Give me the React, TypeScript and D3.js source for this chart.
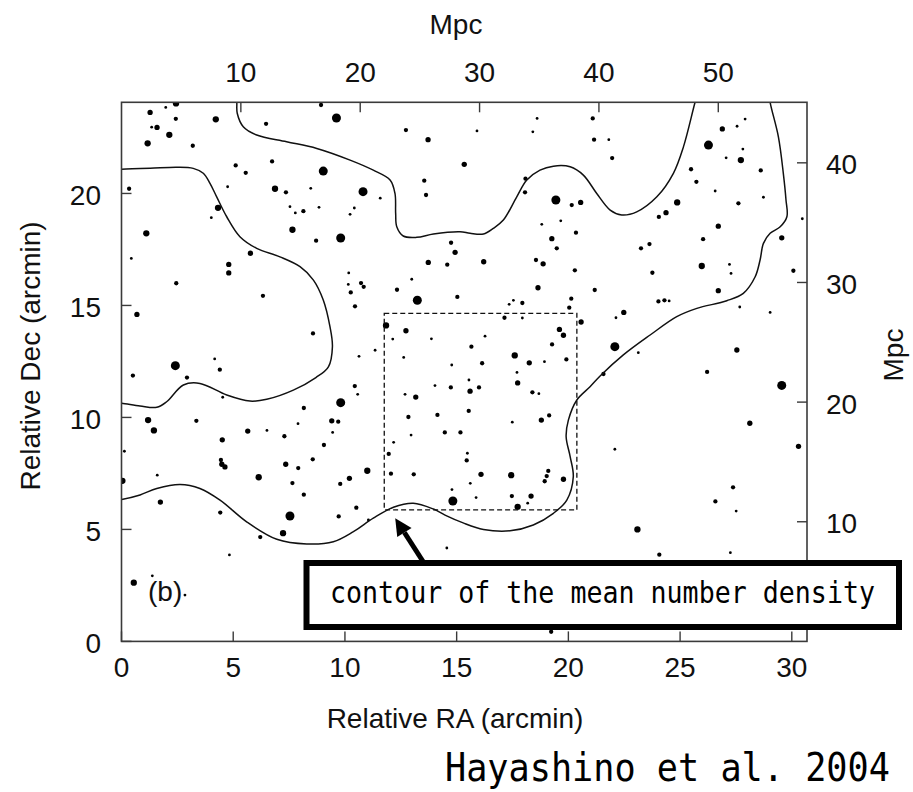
import React from 'react';
import * as d3 from 'd3';

// ---- galaxy positions (arcmin) and size class (1 = faint ... 5 = bright) ----
const RA = [
  2.44, 1.28, 1.98, 2.43, 4.22, 6.47, 8.93, 9.62, 1.35, 1.59, 2.14, 1.17, 3.19, 12.73, 13.72, 5.11, 5.56, 6.74, 9.03, 4.75,
  6.87, 7.36, 8.47, 10.81, 11.58, 13.55, 13.63, 0.34, 4.32, 4.02, 7.54, 7.78, 8.14, 8.84, 10.42, 10.23, 1.11, 7.65, 8.71, 9.81,
  14.75, 14.93, 13.73, 14.58, 0.44, 5.77, 4.80, 4.80, 2.45, 6.33, 10.17, 10.15, 10.72, 10.84, 10.26, 12.99, 12.33, 13.24, 15.03, 10.45,
  0.69, 11.84, 12.73, 12.14, 13.87, 12.63, 14.78, 8.57, 11.35, 10.63, 4.17, 4.40, 2.41, 0.51, 2.93, 18.60, 15.91, 18.41, 21.09, 21.15,
  21.81, 21.96, 15.34, 26.89, 27.55, 27.91, 26.27, 27.81, 27.06, 27.72, 25.49, 28.61, 25.73, 26.57, 28.73, 18.08, 18.06, 19.44, 20.15, 20.55,
  24.87, 24.37, 24.05, 27.61, 26.71, 30.47, 18.81, 19.66, 20.34, 19.26, 19.48, 23.63, 23.25, 26.03, 29.55, 16.21, 18.55, 18.87, 20.29, 23.76,
  25.97, 27.21, 27.28, 30.07, 18.64, 21.18, 26.71, 17.54, 17.94, 17.35, 20.13, 20.04, 24.03, 24.30, 24.51, 27.67, 29.03, 17.14, 17.94, 20.57,
  22.48, 22.13, 19.60, 19.78, 19.27, 16.27, 15.66, 17.60, 18.25, 18.93, 19.91, 16.14, 17.70, 22.08, 23.13, 27.54, 26.21, 21.57, 10.44, 10.57,
  4.53, 9.81, 8.16, 1.19, 1.45, 3.35, 9.41, 9.70, 7.90, 9.45, 5.65, 6.51, 4.51, 7.29, 9.06, 0.13, 8.56, 4.45, 4.49, 4.63,
  7.35, 7.91, 11.00, 0.04, 1.60, 6.14, 10.20, 9.79, 7.65, 8.16, 1.74, 4.42, 7.54, 9.72, 10.51, 11.05, 7.23, 6.21, 4.83, 0.55,
  1.38, 12.69, 13.17, 14.03, 14.74, 12.84, 14.14, 12.96, 14.47, 12.18, 11.96, 12.06, 13.08, 14.79, 14.83, 14.56, 29.55, 15.55, 15.60, 16.00,
  17.73, 18.39, 18.68, 15.54, 17.49, 18.79, 19.14, 15.17, 15.48, 15.45, 16.09, 17.44, 19.10, 19.03, 18.94, 19.78, 15.61, 15.87, 17.47, 18.33,
  18.18, 17.73, 22.08, 28.12, 30.30, 27.37, 26.58, 27.51, 23.09, 24.07, 27.25, 19.23, 2.84,
];
const DEC = [
  24.02, 23.62, 23.84, 23.33, 23.31, 23.11, 23.95, 23.37, 22.96, 22.95, 22.62, 22.24, 22.13, 22.83, 22.40, 21.25, 20.92, 21.43, 21.00, 20.30,
  20.21, 20.05, 20.23, 20.08, 19.79, 20.57, 19.93, 20.21, 19.36, 18.92, 19.41, 19.13, 19.21, 19.38, 19.35, 19.07, 18.22, 18.38, 17.89, 18.01,
  17.80, 17.37, 16.92, 16.82, 17.10, 17.33, 16.83, 16.45, 15.99, 15.43, 16.45, 15.94, 16.00, 15.83, 15.58, 16.17, 15.70, 15.23, 15.38, 14.96,
  14.60, 14.11, 13.87, 13.50, 13.51, 12.68, 12.34, 13.75, 13.00, 12.73, 12.61, 12.13, 12.31, 11.87, 11.78, 23.35, 22.79, 22.75, 23.35, 22.40,
  22.40, 21.58, 21.30, 22.88, 23.00, 23.32, 22.16, 21.98, 21.59, 21.49, 21.08, 21.03, 20.52, 20.11, 19.83, 20.66, 20.05, 19.71, 19.48, 19.60,
  19.60, 19.14, 18.95, 19.56, 18.54, 18.87, 18.62, 18.78, 18.25, 17.98, 17.55, 17.74, 17.55, 17.96, 18.02, 16.95, 17.03, 16.86, 16.57, 16.46,
  16.76, 16.83, 16.43, 16.55, 15.79, 15.69, 15.66, 15.23, 15.11, 15.05, 15.30, 14.90, 15.18, 15.23, 15.20, 14.93, 14.69, 14.45, 14.44, 14.26,
  14.69, 14.45, 13.93, 13.67, 13.26, 13.63, 13.16, 12.77, 12.44, 12.49, 12.59, 12.42, 12.01, 13.16, 12.89, 13.01, 12.03, 11.94, 11.40, 11.03,
  10.90, 10.66, 10.42, 9.88, 9.42, 9.85, 9.85, 9.81, 9.72, 9.33, 9.39, 9.42, 9.00, 9.16, 8.77, 8.49, 8.13, 8.10, 7.91, 7.79,
  7.91, 7.74, 7.62, 7.17, 7.42, 7.33, 7.28, 7.03, 7.07, 6.55, 6.22, 5.75, 5.60, 5.58, 5.97, 5.42, 4.83, 4.66, 3.86, 2.62,
  2.93, 11.03, 10.91, 11.42, 11.34, 10.02, 10.11, 9.21, 9.33, 8.89, 8.37, 7.49, 7.46, 6.78, 6.27, 4.17, 11.43, 11.67, 11.17, 11.34,
  11.54, 11.12, 11.06, 10.29, 9.79, 9.88, 10.09, 9.33, 8.40, 8.08, 7.46, 7.42, 7.61, 7.38, 7.15, 7.24, 7.06, 6.42, 6.49, 6.49,
  6.17, 6.01, 8.58, 9.74, 8.71, 6.88, 6.25, 5.82, 5.00, 3.87, 3.96, 0.43, 2.07,
];
const MAG = [
  4, 3, 1, 2, 4, 2, 2, 5, 1, 3, 4, 4, 2, 2, 3, 2, 2, 2, 5, 1,
  4, 2, 1, 5, 1, 2, 2, 2, 4, 1, 1, 1, 2, 1, 1, 1, 4, 4, 2, 5,
  2, 3, 3, 2, 1, 3, 3, 3, 2, 2, 1, 1, 2, 2, 2, 1, 2, 5, 2, 2,
  3, 4, 3, 1, 1, 1, 1, 2, 1, 1, 1, 2, 5, 2, 2, 1, 1, 1, 2, 2,
  1, 2, 3, 3, 1, 1, 5, 1, 1, 4, 2, 2, 2, 1, 1, 2, 2, 5, 2, 3,
  4, 3, 2, 2, 3, 1, 1, 1, 2, 3, 2, 2, 2, 2, 3, 3, 2, 3, 2, 2,
  4, 1, 1, 2, 3, 2, 3, 1, 2, 1, 2, 2, 2, 2, 1, 1, 1, 2, 1, 3,
  3, 1, 3, 3, 2, 1, 2, 4, 3, 1, 2, 2, 1, 5, 1, 3, 2, 2, 2, 1,
  1, 5, 2, 4, 4, 2, 3, 2, 1, 1, 3, 1, 3, 2, 2, 1, 2, 2, 3, 3,
  3, 2, 4, 4, 1, 4, 3, 2, 2, 2, 3, 2, 5, 2, 2, 1, 4, 2, 1, 4,
  1, 1, 3, 1, 2, 2, 2, 1, 2, 1, 2, 2, 2, 1, 5, 1, 5, 1, 3, 2,
  3, 2, 1, 2, 1, 3, 2, 2, 1, 2, 3, 4, 2, 2, 2, 3, 1, 1, 2, 3,
  1, 4, 1, 3, 3, 2, 2, 1, 4, 2, 1, 2, 1,
];

// ---- contours of the mean number density (RA, Dec in arcmin) ----
const CONTOUR_NORTH: [number, number][] = [
  [5.12, 24.5], [5.16, 24.07], [5.18, 23.58], [5.45, 22.98], [6.05, 22.61], [7.39, 22.31], [8.74, 22.01], [10.23, 21.49],
  [11.27, 21.04], [12.02, 20.6], [12.24, 20.0], [12.27, 19.11], [12.32, 18.51], [12.61, 18.1], [13.21, 18.04], [13.96, 18.19],
  [15.15, 18.29], [15.6, 18.22], [16.2, 18.19], [16.64, 18.44], [17.09, 18.81], [17.69, 19.85], [18.14, 20.6], [18.73, 21.04],
  [19.33, 21.22], [20.08, 21.19], [20.67, 20.82], [21.27, 20.0], [21.87, 19.26], [22.39, 19.04], [23.06, 19.18], [23.96, 19.85],
  [24.7, 20.9], [25.15, 22.08], [25.67, 24.07], [25.8, 24.5],
];
const CONTOUR_SOUTH: [number, number][] = [
  [28.98, 24.5], [29.03, 24.07], [29.4, 22.53], [29.62, 20.9], [29.74, 19.71], [29.78, 18.96], [29.48, 18.51], [29.03, 18.22],
  [28.73, 17.77], [28.58, 17.03], [28.36, 16.28], [27.83, 15.54], [27.09, 15.21], [25.75, 14.87], [24.85, 14.5], [23.66, 13.68],
  [22.46, 12.79], [21.42, 11.85], [20.97, 11.37], [20.38, 10.78], [20.0, 9.88], [19.9, 9.14], [20.08, 8.25], [20.22, 7.35],
  [19.93, 6.31], [19.33, 5.72], [18.43, 5.2], [17.39, 4.94], [16.2, 5.0], [15.29, 5.29], [14.48, 5.64], [13.96, 5.91],
  [13.06, 6.17], [12.17, 5.99], [11.27, 5.5], [10.38, 4.9], [9.48, 4.45], [8.29, 4.35], [6.95, 4.56], [5.6, 5.34],
  [4.41, 6.31], [3.51, 6.83], [2.62, 7.01], [1.58, 6.83], [0.83, 6.54], [0.01, 6.34], [-0.3, 6.3],
];
const CONTOUR_WEST: [number, number][] = [
  [-0.3, 21.08], [0.01, 21.08], [1.28, 21.12], [2.47, 21.17], [3.21, 21.12], [3.66, 20.9], [3.96, 20.45], [4.26, 19.85],
  [4.71, 18.96], [5.3, 18.07], [6.05, 17.55], [7.09, 17.17], [7.99, 16.73], [8.59, 16.13], [9.03, 15.24], [9.33, 14.05],
  [9.44, 13.16], [9.26, 12.26], [8.7, 11.78], [7.69, 11.22], [6.5, 10.81], [5.75, 10.73], [4.71, 11.0], [3.51, 11.52],
  [2.77, 11.45], [2.02, 10.7], [1.58, 10.45], [0.83, 10.51], [0.01, 10.63], [-0.3, 10.65],
];

// dashed field (arcmin)
const FIELD_RA = [11.76, 20.38];
const FIELD_DEC = [5.87, 14.65];

// axes
const RA_TICKS = [0, 5, 10, 15, 20, 25, 30];
const DEC_TICKS = [0, 5, 10, 15, 20];
const MPC_X_TICKS = [10, 20, 30, 40, 50];
const MPC_Y_TICKS = [10, 20, 30, 40];
const MPC_PER_ARCMIN = 1.872;
const RA_MAX = 30.68;
const DEC_MAX = 24.07;

// arrow tip (arcmin)
const ARROW_TIP = [12.25, 5.5];

const SANS = '"Liberation Sans", Arial, Helvetica, sans-serif';
const MONO = '"DejaVu Sans Mono", monospace';

export default function App() {
  const W = 913, H = 792;
  const L = 121.5, R = 807, T = 102.3, B = 641.4;
  const x = d3.scaleLinear().domain([0, RA_MAX]).range([L, R]);
  const y = d3.scaleLinear().domain([0, DEC_MAX]).range([B, T]);
  const xM = d3.scaleLinear().domain([0, RA_MAX * MPC_PER_ARCMIN]).range([L, R]);
  const yM = d3.scaleLinear().domain([0, DEC_MAX * MPC_PER_ARCMIN]).range([B, T]);
  const rad = d3.scaleOrdinal<number, number>().domain([1, 2, 3, 4, 5]).range([1.4, 2.15, 2.65, 3.15, 4.5]);
  const line = d3.line<[number, number]>()
    .x((d) => x(d[0]))
    .y((d) => y(d[1]))
    .curve(d3.curveCatmullRom.alpha(0.5));

  const axisColor = '#3a3a3a';
  const tickLen = 10;
  const fs = 28;

  // annotation layout
  const box = { x: 306.5, y: 563, w: 592.5, h: 64 };
  const tipX = x(ARROW_TIP[0]);
  const tipY = y(ARROW_TIP[1]);
  const tailX = 424, tailY = box.y;
  const dx = tipX - tailX, dy = tipY - tailY;
  const len = Math.hypot(dx, dy);
  const ux = dx / len, uy = dy / len;
  const headL = 17, headW = 8.5;
  const bx = tipX - ux * headL, by = tipY - uy * headL;
  const px = -uy, py = ux;

  // condensed monospace texts (natural DejaVu Sans Mono advance = 0.602em)
  const annFs = 30, annText = 'contour of the mean number density', annW = 545;
  const annSx = annW / (annText.length * 0.602 * annFs);
  const refFs = 38.5, refText = 'Hayashino et al. 2004', refW = 445;
  const refSx = refW / (refText.length * 0.602 * refFs);

  return (
    <svg width={W} height={H} style={{ position: 'absolute', left: 0, top: 0, background: '#fff' }}>
      <defs>
        <clipPath id="plotClip">
          <rect x={L} y={T} width={R - L} height={B - T} />
        </clipPath>
      </defs>
      <rect x={0} y={0} width={W} height={H} fill="#fff" />

      {/* galaxies */}
      <g clipPath="url(#plotClip)">
        {RA.map((ra, i) => (
          <circle key={i} cx={x(ra)} cy={y(DEC[i])} r={rad(MAG[i])} fill="#000" />
        ))}
      </g>

      {/* contours */}
      <g clipPath="url(#plotClip)" fill="none" stroke="#111" strokeWidth={1.5}>
        <path d={line(CONTOUR_NORTH) || ''} />
        <path d={line(CONTOUR_SOUTH) || ''} />
        <path d={line(CONTOUR_WEST) || ''} />
      </g>

      {/* dashed field */}
      <rect
        x={x(FIELD_RA[0])}
        y={y(FIELD_DEC[1])}
        width={x(FIELD_RA[1]) - x(FIELD_RA[0])}
        height={y(FIELD_DEC[0]) - y(FIELD_DEC[1])}
        fill="none"
        stroke="#111"
        strokeWidth={1.3}
        strokeDasharray="5,3"
      />

      {/* frame */}
      <rect x={L} y={T} width={R - L} height={B - T} fill="none" stroke={axisColor} strokeWidth={1.6} />

      {/* bottom ticks */}
      {RA_TICKS.map((t) => (
        <g key={'b' + t}>
          <line x1={x(t)} x2={x(t)} y1={B} y2={B - tickLen} stroke={axisColor} strokeWidth={1.4} />
          <text x={x(t)} y={677} textAnchor="middle" fontFamily={SANS} fontSize={fs} fill="#111">{t}</text>
        </g>
      ))}
      {/* left ticks */}
      {DEC_TICKS.map((t) => (
        <g key={'l' + t}>
          <line x1={L} x2={L + tickLen} y1={y(t)} y2={y(t)} stroke={axisColor} strokeWidth={1.4} />
          <text x={101} y={y(t) + 2} textAnchor="end" dominantBaseline="central" fontFamily={SANS} fontSize={fs} fill="#111">{t}</text>
        </g>
      ))}
      {/* top ticks (Mpc) */}
      {MPC_X_TICKS.map((t) => (
        <g key={'t' + t}>
          <line x1={xM(t)} x2={xM(t)} y1={T} y2={T + tickLen} stroke={axisColor} strokeWidth={1.4} />
          <text x={xM(t)} y={82} textAnchor="middle" fontFamily={SANS} fontSize={fs} fill="#111">{t}</text>
        </g>
      ))}
      {/* right ticks (Mpc) */}
      {MPC_Y_TICKS.map((t) => (
        <g key={'r' + t}>
          <line x1={R} x2={R - tickLen} y1={yM(t)} y2={yM(t)} stroke={axisColor} strokeWidth={1.4} />
          <text x={826} y={yM(t) + 2} textAnchor="start" dominantBaseline="central" fontFamily={SANS} fontSize={fs} fill="#111">{t}</text>
        </g>
      ))}

      {/* axis titles */}
      <text x={455} y={728} textAnchor="middle" fontFamily={SANS} fontSize={fs} fill="#111">Relative RA (arcmin)</text>
      <text transform={`translate(40,356) rotate(-90)`} textAnchor="middle" fontFamily={SANS} fontSize={fs} fill="#111">Relative Dec (arcmin)</text>
      <text x={456} y={34} textAnchor="middle" fontFamily={SANS} fontSize={fs} fill="#111">Mpc</text>
      <text transform={`translate(903,355) rotate(-90)`} textAnchor="middle" fontFamily={SANS} fontSize={fs} fill="#111">Mpc</text>

      <text x={148} y={601} fontFamily={SANS} fontSize={fs} fill="#111">(b)</text>

      {/* annotation arrow */}
      <line x1={tailX} y1={tailY} x2={bx} y2={by} stroke="#000" strokeWidth={5} />
      <polygon
        points={`${tipX},${tipY} ${bx + px * headW},${by + py * headW} ${bx - px * headW},${by - py * headW}`}
        fill="#000"
      />

      {/* annotation box */}
      <rect x={box.x} y={box.y} width={box.w} height={box.h} fill="#fff" stroke="#000" strokeWidth={6} />
      <text transform={`translate(330,603) scale(${annSx},1)`} fontFamily={MONO} fontSize={annFs} fill="#000">
        {annText}
      </text>

      <text transform={`translate(445,781) scale(${refSx},1)`} fontFamily={MONO} fontSize={refFs} fill="#000">
        {refText}
      </text>
    </svg>
  );
}
